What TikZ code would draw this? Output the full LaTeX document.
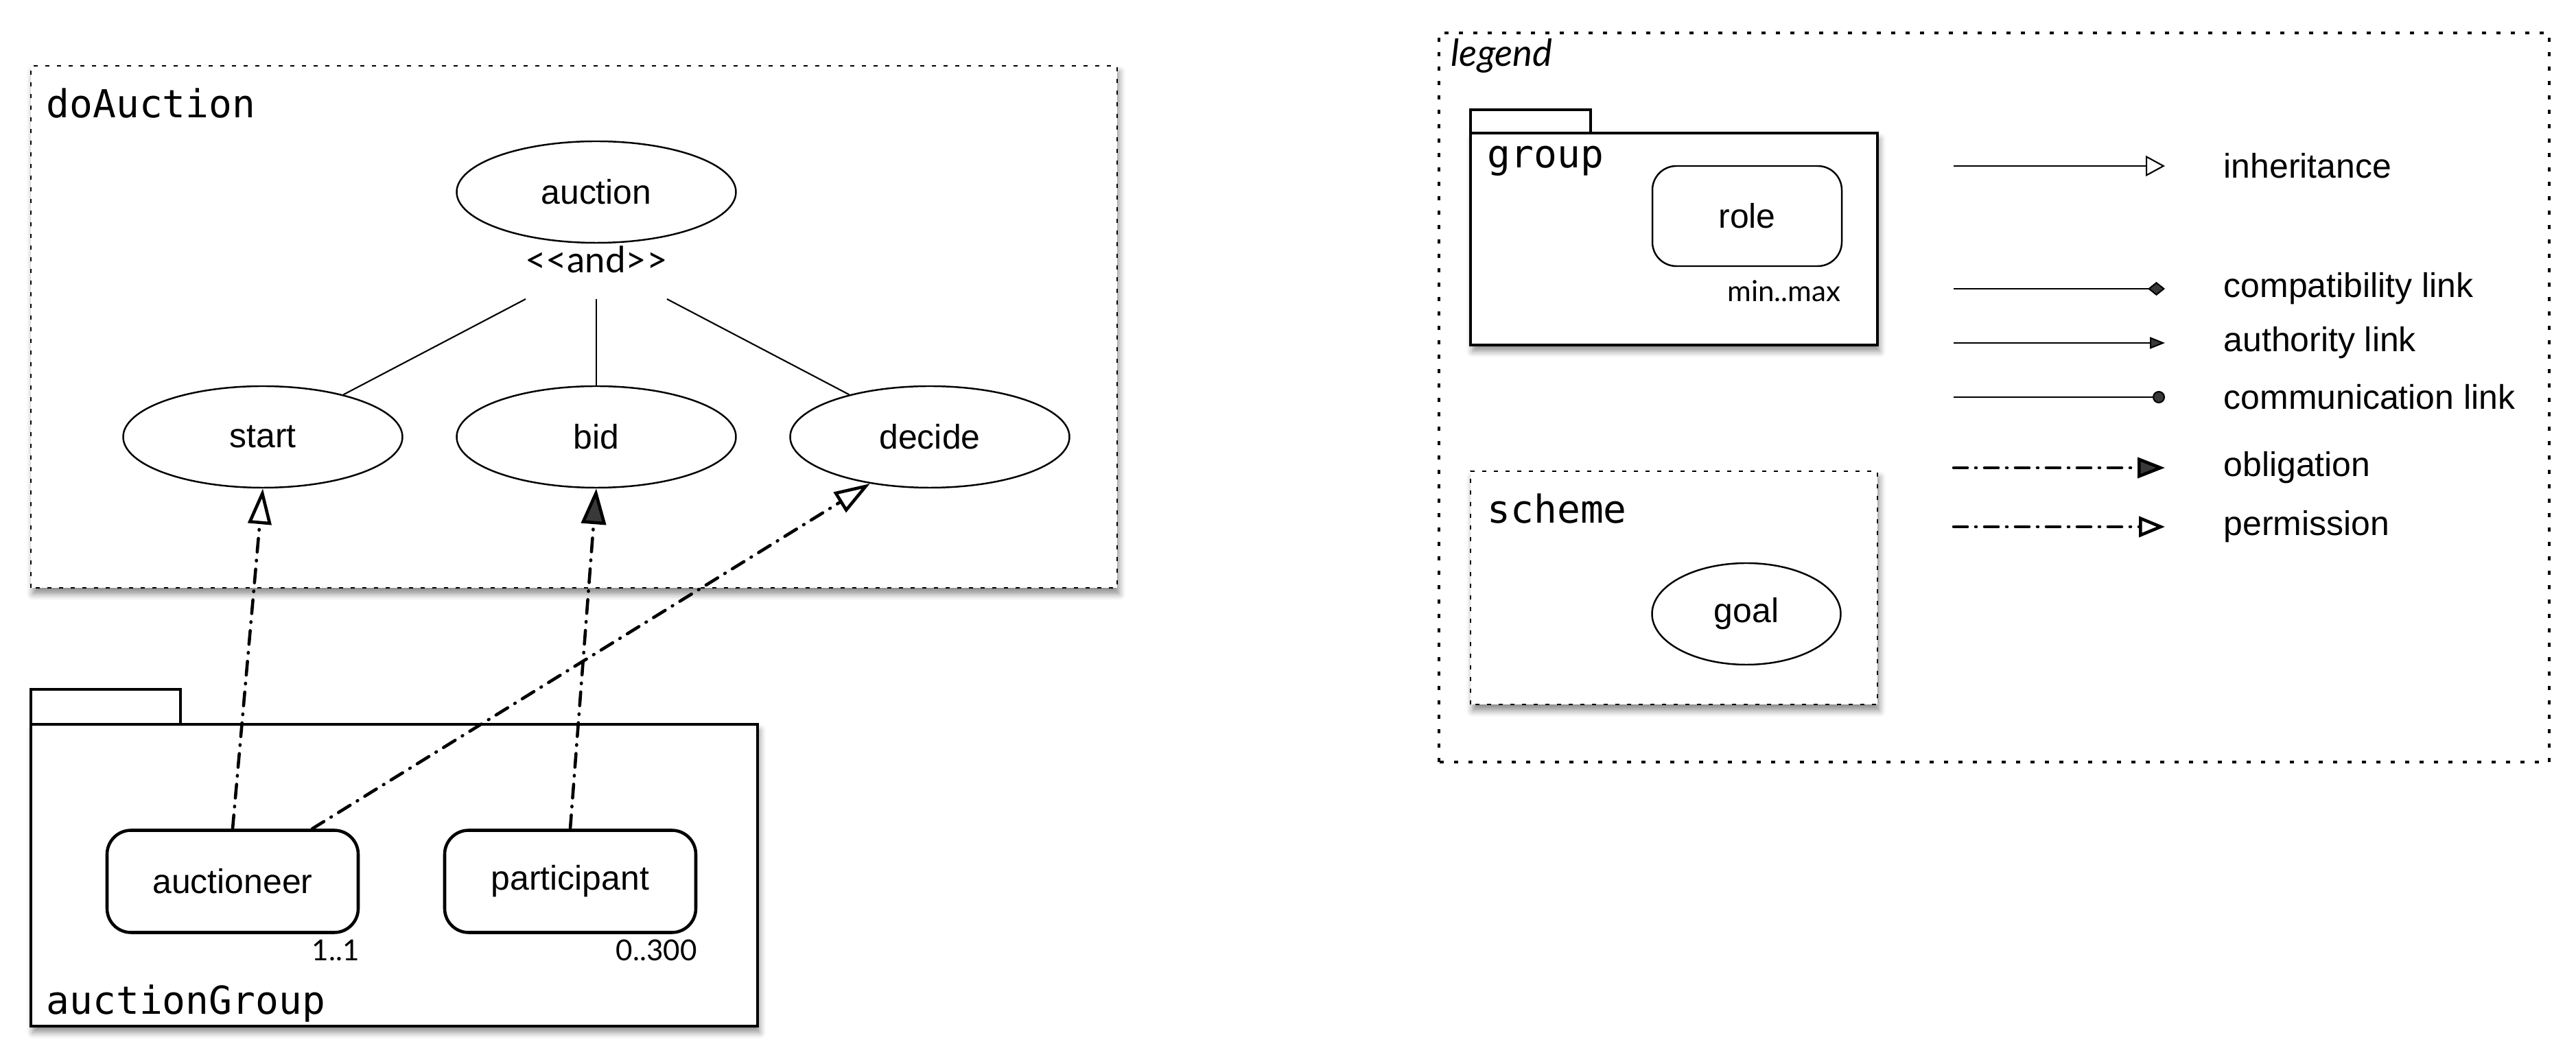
\documentclass[tikz,border=0pt]{standalone}
\usepackage{fontspec}
\setsansfont{Liberation Sans}
\setmonofont{DejaVu Sans Mono}
\newfontfamily\notefont{Lato}
\usetikzlibrary{arrows.meta,shapes.geometric,shadows.blur}

\begin{document}
\begin{tikzpicture}[>=Stealth,font=\sffamily,x=1cm,y=1cm,
    goalnode/.style={draw,ellipse,line width=0.7pt,inner sep=0pt,
      minimum width=4.07cm,minimum height=1.48cm,
      font=\sffamily\fontsize{14.2}{17}\selectfont},
    rolenode/.style={draw,rounded corners=0.35cm,line width=1.3pt,inner sep=0pt,
      minimum width=3.66cm,minimum height=1.49cm,
      font=\sffamily\fontsize{14.2}{17}\selectfont},
    monolabel/.style={anchor=west,inner sep=0pt,font=\ttfamily\fontsize{16}{19}\selectfont},
    notelabel/.style={inner sep=0pt,font=\notefont\fontsize{12}{14}\selectfont},
    keylabel/.style={anchor=west,inner sep=0pt,font=\sffamily\fontsize{14.2}{17}\selectfont},
    pkgline/.style={draw,line width=0.9pt,fill=white},
    boxshadow/.style={blur shadow={shadow xshift=0.03cm,shadow yshift=-0.09cm,
      shadow blur radius=0.09cm,shadow opacity=45}},
    schemebox/.style={draw,line width=0.7pt,dash pattern=on 0.06cm off 0.11cm,fill=white},
    treeline/.style={line width=0.6pt},
    dashdot/.style={line width=1.3pt,line cap=round,
      dash pattern=on 0.2cm off 0.12cm on 0.01cm off 0.12cm},
    obligation/.style={dashdot,-{Triangle[length=0.52cm,width=0.36cm]}},
    permission/.style={dashdot,-{Triangle[open,length=0.52cm,width=0.34cm]}},
    keyline/.style={line width=0.6pt}]

  \useasboundingbox (0,0) rectangle (37.54,15.41);

  % --- scheme doAuction ---
  \draw[schemebox,boxshadow] (0.45,6.84) rectangle (16.28,14.45);
  \node[monolabel] (schemename) at (0.67,13.90) {doAuction};

  \node[goalnode] (auction) at (8.69,12.61) {auction};
  \node[notelabel,font=\notefont\fontsize{15}{17}\selectfont] (andop) at (8.69,11.63) {<<and>>};
  \node[goalnode] (start) at (3.83,9.04) {start};
  \node[goalnode] (bid) at (8.69,9.04) {bid};
  \node[goalnode] (decide) at (13.55,9.04) {decide};

  \coordinate (andL) at (7.66,11.05);
  \coordinate (andM) at (8.69,11.05);
  \coordinate (andR) at (9.72,11.05);
  \draw[treeline] (andL) -- (start);
  \draw[treeline] (andM) -- (bid);
  \draw[treeline] (andR) -- (decide);

  % --- group auctionGroup ---
  \draw[pkgline,boxshadow] (0.45,0.45) rectangle (11.04,4.85);
  \draw[pkgline] (0.45,4.85) rectangle (2.63,5.36);
  \node[monolabel] (groupname) at (0.67,0.78) {auctionGroup};

  \node[rolenode] (auctioneer) at (3.39,2.56) {auctioneer};
  \node[rolenode] (participant) at (8.31,2.56) {participant};
  \node[notelabel,anchor=east] (card1) at ([yshift=-0.24cm]auctioneer.south east) {1..1};
  \node[notelabel,anchor=east] (card2) at ([yshift=-0.24cm]participant.south east) {0..300};

  % --- norms ---
  \draw[permission] (auctioneer.north) -- (start.south);
  \draw[obligation] (participant.north) -- (bid.south);
  \draw[permission] ([xshift=1.16cm]auctioneer.north) -- (decide.218);

  % --- legend ---
  \draw[line width=1.1pt,dash pattern=on 0.06cm off 0.15cm] (20.97,4.30) rectangle (37.15,14.93);
  \node[notelabel,anchor=west,font=\notefont\itshape\fontsize{15.5}{18}\selectfont]
        (legendname) at (21.14,14.60) {legend};

  \draw[pkgline,boxshadow] (21.43,10.38) rectangle (27.36,13.47);
  \draw[pkgline] (21.43,13.47) rectangle (23.18,13.81);
  \node[monolabel] (grouptag) at (21.67,13.06) {group};
  \node[rolenode,line width=0.7pt,minimum width=2.76cm,minimum height=1.46cm]
        (role) at (25.46,12.26) {role};
  \node[notelabel,anchor=east] (minmax) at (26.83,11.17) {min..max};

  \draw[schemebox,boxshadow] (21.43,5.14) rectangle (27.36,8.54);
  \node[monolabel] (schemetag) at (21.67,7.99) {scheme};
  \node[goalnode,minimum width=2.75cm] (goal) at (25.45,6.46) {goal};

  \coordinate (inhA) at (28.47,12.99);  \coordinate (inhB) at (31.55,12.99);
  \coordinate (cmpA) at (28.47,11.20);  \coordinate (cmpB) at (31.55,11.20);
  \coordinate (autA) at (28.47,10.41);  \coordinate (autB) at (31.55,10.41);
  \coordinate (comA) at (28.47,9.62);   \coordinate (comB) at (31.55,9.62);
  \coordinate (oblA) at (28.47,8.59);   \coordinate (oblB) at (31.55,8.59);
  \coordinate (perA) at (28.47,7.73);   \coordinate (perB) at (31.55,7.73);

  \draw[keyline,-{Triangle[open,length=0.28cm,width=0.3cm]}] (inhA) -- (inhB);
  \draw[keyline,-{Diamond[length=0.25cm,width=0.2cm]}] (cmpA) -- (cmpB);
  \draw[keyline,-{Triangle[length=0.22cm,width=0.17cm]}] (autA) -- (autB);
  \draw[keyline,-{Circle[length=0.18cm]}] (comA) -- (comB);
  \draw[obligation,-{Triangle[length=0.4cm,width=0.3cm]}] (oblA) -- (oblB);
  \draw[permission,-{Triangle[open,length=0.38cm,width=0.3cm]}] (perA) -- (perB);

  \node[keylabel] (inhtext) at (32.40,12.99) {inheritance};
  \node[keylabel] (cmptext) at (32.40,11.20) {compatibility link};
  \node[keylabel] (auttext) at (32.40,10.41) {authority link};
  \node[keylabel] (comtext) at (32.40,9.62) {communication link};
  \node[keylabel] (obltext) at (32.40,8.59) {obligation};
  \node[keylabel] (pertext) at (32.40,7.73) {permission};

\end{tikzpicture}
\end{document}
